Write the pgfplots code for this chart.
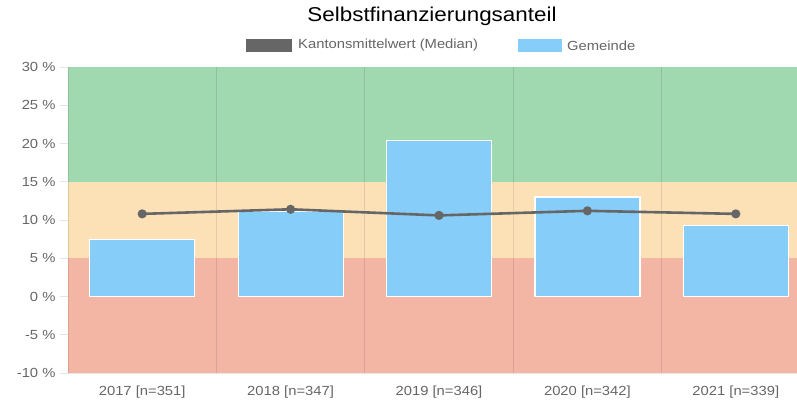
\documentclass[border=0pt]{standalone}
\usepackage{pgfplots}
\pgfplotsset{compat=1.18}
\usepackage{fontspec}
\setmainfont[FakeStretch=1.12]{Liberation Sans}
\definecolor{bandgreen}{RGB}{160,216,176}
\definecolor{bandorange}{RGB}{252,225,182}
\definecolor{bandred}{RGB}{243,182,165}
\definecolor{barblue}{RGB}{135,205,249}
\definecolor{linegray}{RGB}{102,102,102}
\definecolor{txtgray}{RGB}{102,102,102}
\begin{document}
\begin{tikzpicture}[x=1pt,y=1pt]
\begin{axis}[
  at={(0,0)}, anchor=south west,
  scale only axis, width=742pt, height=306pt,
  xmin=-0.5, xmax=4.5, ymin=-10, ymax=30,
  xtick={0,1,2,3,4},
  xticklabels={2017 [n=351],2018 [n=347],2019 [n=346],2020 [n=342],2021 [n=339]},
  extra x ticks={0.5,1.5,2.5,3.5},
  extra x tick labels={},
  extra x tick style={major tick length=7pt, tick style={draw=black, draw opacity=0.1, line width=0.8pt}},
  ytick={-10,-5,0,5,10,15,20,25,30},
  yticklabels={-10 \%,-5 \%,0 \%,5 \%,10 \%,15 \%,20 \%,25 \%,30 \%},
  /pgf/number format/assume math mode=true,
  tick align=outside,
  major tick length=8pt,
  xtick style={draw=none},
  ytick style={draw=black, draw opacity=0.1, line width=0.8pt},
  tick label style={font=\fontsize{13.2}{15}\selectfont, text=txtgray},
  xticklabel style={yshift=-1pt},
  yticklabel style={xshift=-1pt},
  axis line style={draw=none},
  clip=false,
]
\fill[bandgreen] (axis cs:-0.5,15) rectangle (axis cs:4.5,30);
\fill[bandorange] (axis cs:-0.5,5) rectangle (axis cs:4.5,15);
\fill[bandred] (axis cs:-0.5,-10) rectangle (axis cs:4.5,5);
\foreach \g in {0.5,1.5,2.5,3.5} {
  \edef\tmp{\noexpand\draw[black, draw opacity=0.1, line width=0.8pt] (axis cs:\g,-10) -- (axis cs:\g,30);}
  \tmp
}
\draw[black, draw opacity=0.1, line width=0.8pt] (axis cs:-0.5,-10) -- (axis cs:4.5,-10);
\draw[black, draw opacity=0.1, line width=0.8pt] (axis cs:-0.5,-10) -- (axis cs:-0.5,30);
\addplot[ybar, bar width=105pt, fill=barblue, draw=white, line width=1.2pt]
  coordinates {(0,7.5) (1,11.1) (2,20.4) (3,13.0) (4,9.3)};
\addplot[linegray, line width=2.6pt, mark=*, mark size=3.2pt, mark options={fill=linegray, draw=linegray}]
  coordinates {(0,10.8) (1,11.4) (2,10.6) (3,11.2) (4,10.8)};
\end{axis}
% title and legend
\node[font=\fontsize{20}{24}\selectfont, text=black] at (364,357) {Selbstfinanzierungsanteil};
\fill[linegray] (178,321) rectangle (224,334);
\node[anchor=west, inner sep=0pt, font=\fontsize{13.2}{15}\selectfont, text=txtgray] at (230,327.5) {Kantonsmittelwert (Median)};
\fill[barblue] (450,321) rectangle (494,334);
\node[anchor=west, inner sep=0pt, font=\fontsize{13.2}{15}\selectfont, text=txtgray] at (499,327.5) {Gemeinde};
\pgfresetboundingbox
\path[use as bounding box] (-68,-32) rectangle (729,373);
\end{tikzpicture}
\end{document}
